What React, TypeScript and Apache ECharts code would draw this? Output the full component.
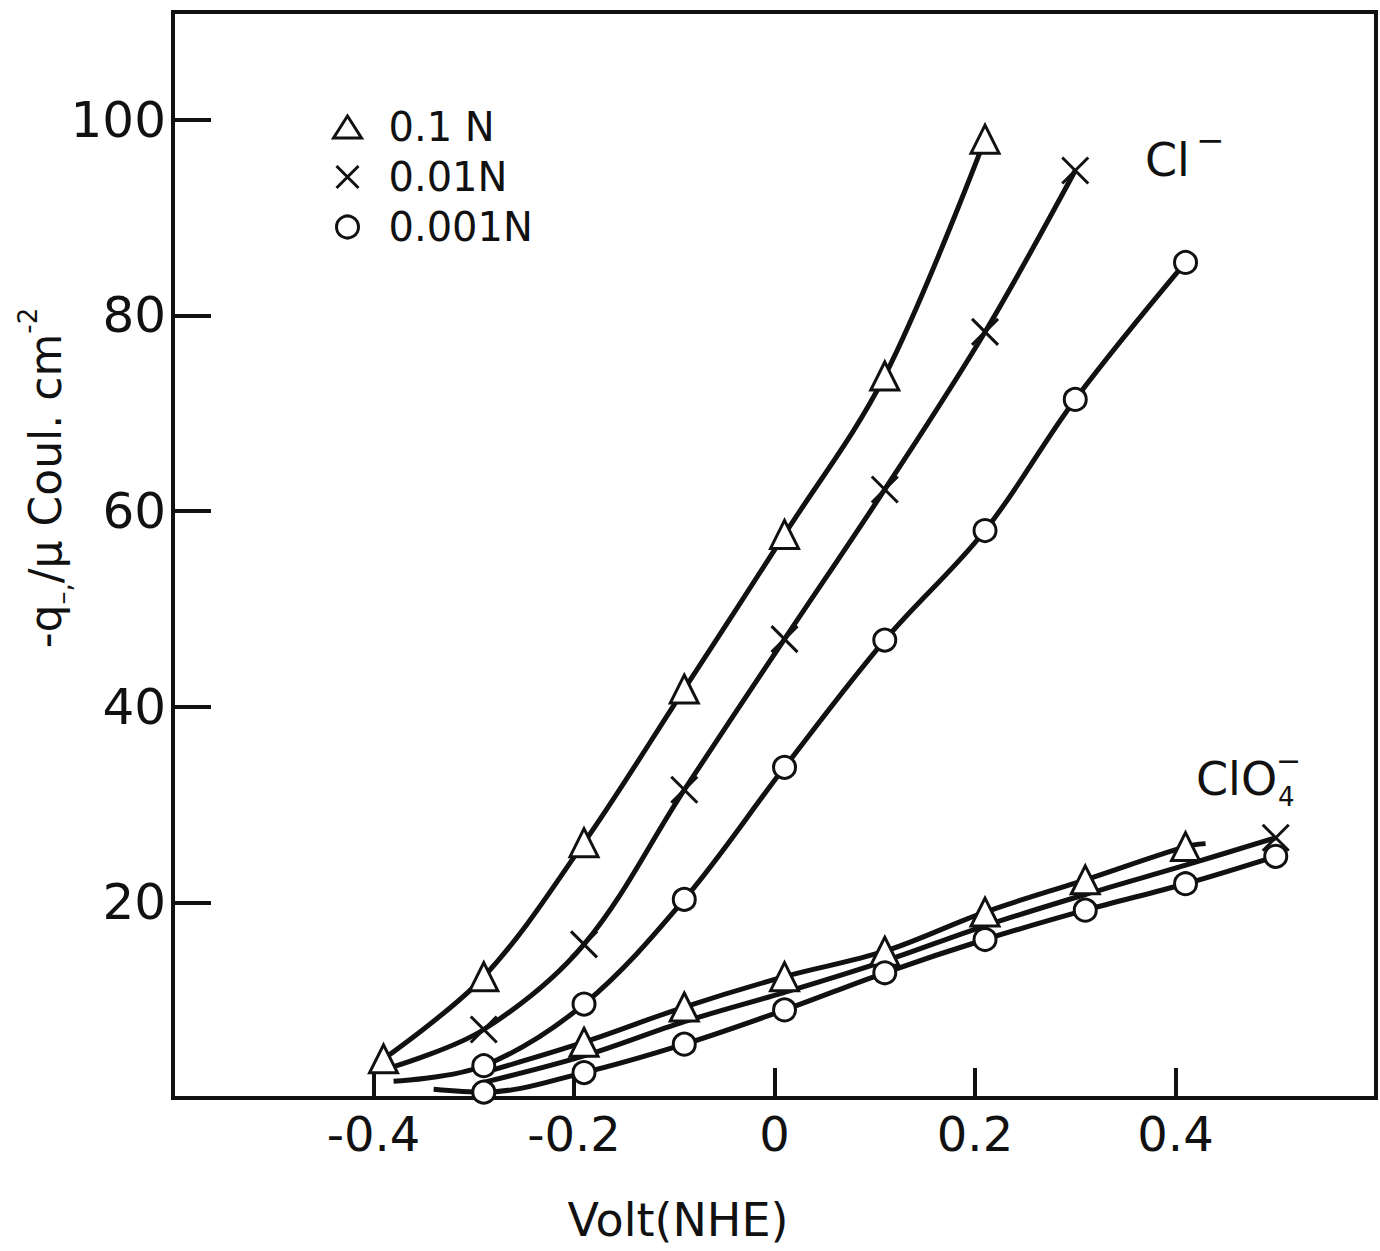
import React, { useEffect, useRef } from "react";
import * as echarts from "echarts";

// ---- data ----
// Cl- curves
const clX_01 = [-0.39, -0.29, -0.19, -0.09, 0.01, 0.11, 0.21];
const clY_01 = [4.0, 12.4, 26.1, 41.8, 57.6, 73.8, 98.0];
const clX_001 = [-0.38, -0.29, -0.19, -0.09, 0.01, 0.11, 0.21, 0.3];
const clY_001 = [3.2, 7.0, 15.7, 31.5, 46.9, 62.2, 78.3, 94.8];
const clX_0001 = [-0.38, -0.29, -0.19, -0.09, 0.01, 0.11, 0.21, 0.3, 0.41];
const clY_0001 = [1.7, 3.3, 9.6, 20.3, 33.8, 46.8, 58.0, 71.4, 85.4];
// ClO4- curves
const pcX_01 = [-0.29, -0.19, -0.09, 0.01, 0.11, 0.21, 0.31, 0.41, 0.43];
const pcY_01 = [2.6, 5.7, 9.3, 12.4, 15.0, 19.0, 22.3, 25.7, 26.0];
const pcX_001 = [-0.29, -0.19, -0.09, 0.01, 0.11, 0.21, 0.31, 0.41, 0.5];
const pcY_001 = [1.6, 4.3, 7.8, 10.8, 14.0, 17.6, 20.8, 23.8, 26.6];
const pcX_0001 = [-0.34, -0.29, -0.19, -0.09, 0.01, 0.11, 0.21, 0.31, 0.41, 0.5];
const pcY_0001 = [0.9, 0.6, 2.6, 5.5, 9.0, 12.8, 16.2, 19.2, 21.9, 24.7];

const legendNames = ["0.1 N", "0.01N", "0.001N"];
const xTicks = { min: -0.6, max: 0.6, interval: 0.2 };
const yTicks = { min: 0, max: 111, interval: 20 };

const FONT = "DejaVu Sans";
const INK = "#111";
const CROSS = "path://M2,2 L22,22 M22,2 L2,22";
const SYMBOLS = ["triangle", CROSS, "circle"];
const SIZES = [28, 26, 22];

const markerStyle = { color: "#fff", borderColor: INK, borderWidth: 3 };

function mkSeries(
  name: string,
  xs: number[],
  ys: number[],
  kind: number,
  hidden: number[]
) {
  return {
    type: "line",
    name,
    smooth: 0.35,
    symbol: SYMBOLS[kind],
    symbolSize: SIZES[kind],
    showSymbol: true,
    lineStyle: { color: INK, width: 5 },
    itemStyle: markerStyle,
    data: xs.map((x, i) =>
      hidden.indexOf(i) >= 0
        ? { value: [x, ys[i]], symbol: "none" }
        : { value: [x, ys[i]] }
    ),
    z: 3,
  };
}

export default function App() {
  const ref = useRef<HTMLDivElement>(null);
  useEffect(() => {
    if (!ref.current) return;
    const chart = echarts.init(ref.current, null, { renderer: "svg" });
    const option = {
      animation: false,
      backgroundColor: "#fff",
      grid: {
        left: 173,
        right: 4,
        top: 12,
        bottom: 153,
        show: true,
        borderColor: INK,
        borderWidth: 4,
      },
      legend: {
        orient: "vertical",
        left: 327,
        top: 101,
        itemWidth: 28,
        itemHeight: 22,
        itemGap: 8,
        selectedMode: false,
        textStyle: {
          fontFamily: FONT,
          fontSize: 40,
          lineHeight: 42,
          color: INK,
          padding: [0, 0, 0, 22],
        },
        data: legendNames.map((n, i) => ({
          name: n,
          icon: SYMBOLS[i],
          itemStyle: markerStyle,
        })),
      },
      xAxis: {
        type: "value",
        min: xTicks.min,
        max: xTicks.max,
        interval: xTicks.interval,
        axisLine: { show: true, onZero: false, lineStyle: { color: INK, width: 4 } },
        axisTick: { show: true, inside: true, length: 30, lineStyle: { color: INK, width: 4 } },
        splitLine: { show: false },
        axisLabel: {
          margin: 12,
          fontFamily: FONT,
          fontSize: 48,
          color: INK,
          formatter: (v: number) => {
            if (Math.abs(v) > 0.55) return "";
            if (Math.abs(v) < 1e-6) return "0";
            return v.toFixed(1);
          },
        },
      },
      yAxis: {
        type: "value",
        min: yTicks.min,
        max: yTicks.max,
        interval: yTicks.interval,
        axisLine: { show: true, onZero: false, lineStyle: { color: INK, width: 4 } },
        axisTick: { show: true, inside: true, length: 38, lineStyle: { color: INK, width: 4 } },
        splitLine: { show: false },
        axisLabel: {
          margin: 7,
          fontFamily: FONT,
          fontSize: 50,
          color: INK,
          showMaxLabel: false,
          formatter: (v: number) => (v === 0 || v > 100 ? "" : String(v)),
        },
      },
      graphic: [
        {
          type: "text",
          x: 678,
          y: 1220,
          style: {
            text: "Volt(NHE)",
            fontFamily: FONT,
            fontSize: 46,
            fill: INK,
            align: "center",
            verticalAlign: "middle",
          },
        },
        {
          type: "text",
          x: 45,
          y: 478,
          rotation: Math.PI / 2,
          style: {
            text: "{n|-q}{s|–,}{n|/μ Coul. cm}{p|-2}",
            fontFamily: FONT,
            fill: INK,
            align: "center",
            verticalAlign: "middle",
            rich: {
              n: { fontFamily: FONT, fontSize: 44, lineHeight: 60, fill: INK },
              s: { fontFamily: FONT, fontSize: 26, lineHeight: 60, verticalAlign: "bottom", fill: INK },
              p: { fontFamily: FONT, fontSize: 26, lineHeight: 60, verticalAlign: "top", fill: INK },
            },
          },
        },
        {
          type: "text",
          x: 1145,
          y: 160,
          style: { text: "Cl", fontFamily: FONT, fontSize: 46, fill: INK, verticalAlign: "middle" },
        },
        {
          type: "text",
          x: 1196,
          y: 140,
          style: { text: "−", fontFamily: FONT, fontSize: 34, fill: INK, verticalAlign: "middle" },
        },
        {
          type: "text",
          x: 1196,
          y: 779,
          style: { text: "ClO", fontFamily: FONT, fontSize: 46, fill: INK, verticalAlign: "middle" },
        },
        {
          type: "text",
          x: 1276,
          y: 760,
          style: { text: "−", fontFamily: FONT, fontSize: 30, fill: INK, verticalAlign: "middle" },
        },
        {
          type: "text",
          x: 1278,
          y: 797,
          style: { text: "4", fontFamily: FONT, fontSize: 26, fill: INK, verticalAlign: "middle" },
        },
      ],
      series: [
        mkSeries(legendNames[0], clX_01, clY_01, 0, []),
        mkSeries(legendNames[1], clX_001, clY_001, 1, [0]),
        mkSeries(legendNames[2], clX_0001, clY_0001, 2, [0]),
        mkSeries(legendNames[0], pcX_01, pcY_01, 0, [0, 8]),
        mkSeries(legendNames[1], pcX_001, pcY_001, 1, [0, 1, 2, 3, 4, 5, 6, 7]),
        mkSeries(legendNames[2], pcX_0001, pcY_0001, 2, [0]),
      ],
    };
    chart.setOption(option as any);
    return () => chart.dispose();
  }, []);
  return (
    <div
      ref={ref}
      style={{ position: "absolute", left: 0, top: 0, width: 1380, height: 1251 }}
    />
  );
}
